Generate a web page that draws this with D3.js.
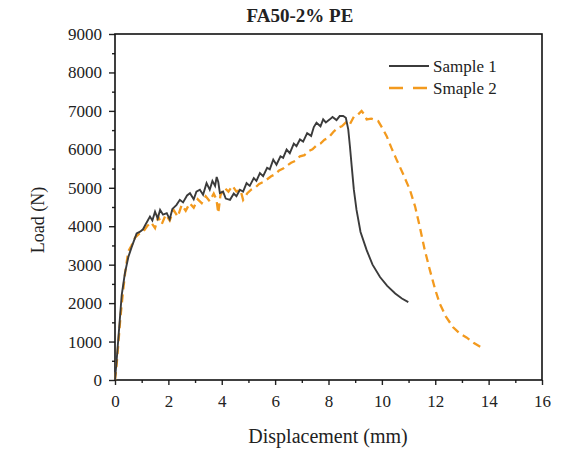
<!DOCTYPE html>
<html>
<head>
<meta charset="utf-8">
<script src="https://cdn.jsdelivr.net/npm/d3@7"></script>
<style>
  body { margin: 0; background: #fff; }
  text { font-family: "Liberation Serif", "DejaVu Serif", serif; fill: #222; }
</style>
</head>
<body>
<svg width="567" height="449"></svg>
<script>
// data (displacement mm, load N)
const sample1X = [0, 0.06, 0.15, 0.25, 0.37, 0.5, 0.62, 0.81, 0.94, 1.05, 1.15, 1.31, 1.4, 1.5, 1.6, 1.69, 1.8, 1.94, 2.05, 2.15, 2.3, 2.43, 2.55, 2.7, 2.81, 2.95, 3.05, 3.18, 3.3, 3.43, 3.55, 3.65, 3.75, 3.81, 3.87, 3.93, 4.05, 4.15, 4.31, 4.45, 4.55, 4.68, 4.8, 4.93, 5.05, 5.2, 5.3, 5.43, 5.55, 5.7, 5.8, 5.93, 6.05, 6.2, 6.3, 6.43, 6.55, 6.7, 6.8, 6.93, 7.05, 7.2, 7.35, 7.45, 7.55, 7.7, 7.8, 7.9, 8.05, 8.15, 8.3, 8.42, 8.55, 8.65, 8.74, 8.8, 8.87, 8.95, 9.05, 9.2, 9.43, 9.65, 9.93, 10.2, 10.5, 10.75, 10.99];
const sample1Y = [0, 500, 1300, 2200, 2775, 3200, 3450, 3814, 3857, 3920, 4050, 4250, 4150, 4380, 4200, 4424, 4300, 4340, 4180, 4450, 4550, 4686, 4620, 4800, 4860, 4700, 4900, 4948, 4820, 5120, 4950, 5180, 5050, 5280, 5150, 4860, 4900, 4720, 4686, 4850, 4780, 4948, 4900, 5120, 5050, 5250, 5180, 5380, 5300, 5520, 5480, 5733, 5600, 5820, 5780, 5995, 5900, 6150, 6080, 6256, 6200, 6420, 6350, 6580, 6693, 6600, 6780, 6700, 6780, 6840, 6760, 6866, 6866, 6820, 6518, 6100, 5558, 4950, 4424, 3850, 3377, 3000, 2678, 2450, 2250, 2120, 2024];

const sample2X = [0, 0.05, 0.12, 0.2, 0.3, 0.4, 0.5, 0.62, 0.75, 0.9, 1.05, 1.2, 1.35, 1.5, 1.62, 1.75, 1.9, 2.05, 2.2, 2.35, 2.5, 2.65, 2.8, 2.95, 3.1, 3.25, 3.4, 3.55, 3.7, 3.8, 3.87, 3.95, 4.1, 4.25, 4.4, 4.55, 4.7, 4.8, 4.95, 5.1, 5.25, 5.4, 5.55, 5.68, 5.85, 6.0, 6.15, 6.3, 6.45, 6.6, 6.75, 6.93, 7.1, 7.25, 7.4, 7.55, 7.7, 7.85, 8.0, 8.18, 8.35, 8.5, 8.65, 8.8, 8.95, 9.1, 9.24, 9.35, 9.43, 9.6, 9.86, 10.02, 10.18, 10.35, 10.55, 10.8, 11.05, 11.25, 11.42, 11.6, 11.8, 12.0, 12.17, 12.4, 12.67, 12.9, 13.17, 13.45, 13.73];
const sample2Y = [0, 300, 900, 1600, 2300, 2900, 3350, 3500, 3700, 3800, 3850, 4000, 4100, 3950, 4250, 4050, 4300, 4150, 4420, 4250, 4550, 4400, 4600, 4480, 4700, 4600, 4780, 4650, 4850, 4700, 4340, 4800, 5000, 4900, 5050, 4900, 4950, 4686, 4850, 4950, 5000, 5100, 5150, 5209, 5300, 5350, 5450, 5500, 5580, 5650, 5700, 5819, 5850, 5950, 6000, 6100, 6150, 6250, 6300, 6450, 6560, 6600, 6700, 6650, 6850, 6900, 6998, 6900, 6780, 6800, 6736, 6550, 6343, 6050, 5733, 5350, 4948, 4500, 3987, 3400, 2853, 2350, 1982, 1650, 1369, 1220, 1107, 960, 846];

const xTicks = [0, 2, 4, 6, 8, 10, 12, 14, 16];
const yTicks = [0, 1000, 2000, 3000, 4000, 5000, 6000, 7000, 8000, 9000];
const seriesNames = ['Sample 1', 'Smaple 2'];

const margin = { top: 34, right: 25, bottom: 69, left: 115 };
const width = 567;
const height = 449;
const innerWidth = width - margin.left - margin.right;
const innerHeight = height - margin.top - margin.bottom;

const svg = d3.select('svg');

const x = d3.scaleLinear().domain([0, 16]).range([0, innerWidth]);
const y = d3.scaleLinear().domain([0, 9000]).range([innerHeight, 0]);

const plot = svg.append('g')
  .attr('transform', `translate(${margin.left}, ${margin.top})`);

// minor ticks first, then the labelled ones
plot.append('g')
  .attr('transform', `translate(0, ${innerHeight})`)
  .call(d3.axisBottom(x).tickValues(d3.range(1, 16, 2)).tickSize(3).tickFormat(''))
  .call(g => g.select('.domain').remove())
  .call(g => g.selectAll('text').remove());
plot.append('g')
  .call(d3.axisLeft(y).tickValues(d3.range(500, 9000, 1000)).tickSize(3).tickFormat(''))
  .call(g => g.select('.domain').remove())
  .call(g => g.selectAll('text').remove());

const xAxis = plot.append('g')
  .attr('transform', `translate(0, ${innerHeight})`)
  .call(d3.axisBottom(x).tickValues(xTicks).tickFormat(d3.format('d')).tickSize(5).tickPadding(10).tickSizeOuter(0));
const yAxis = plot.append('g')
  .call(d3.axisLeft(y).tickValues(yTicks).tickFormat(d3.format('d')).tickSize(6).tickPadding(7).tickSizeOuter(0));

[xAxis, yAxis].forEach(g => {
  g.selectAll('text')
    .style('font-family', '"Liberation Serif", serif')
    .style('font-size', '17px')
    .attr('fill', '#333');
  g.select('.domain').remove();
});
plot.selectAll('.tick line').attr('stroke', '#222').attr('stroke-width', 1.4);

// frame
plot.append('rect')
  .attr('width', innerWidth)
  .attr('height', innerHeight)
  .attr('fill', 'none')
  .attr('stroke', '#111')
  .attr('stroke-width', 1.6);

const line = d3.line()
  .x(d => x(d[0]))
  .y(d => y(d[1]));

const s1 = sample1X.map((v, i) => [v, sample1Y[i]]);
const s2 = sample2X.map((v, i) => [v, sample2Y[i]]);

plot.append('path')
  .datum(s2)
  .attr('d', line)
  .attr('fill', 'none')
  .attr('stroke', '#f39a1e')
  .attr('stroke-width', 2.3)
  .attr('stroke-dasharray', '8,5');

plot.append('path')
  .datum(s1)
  .attr('d', line)
  .attr('fill', 'none')
  .attr('stroke', '#3b3b3b')
  .attr('stroke-width', 1.9);

// title and axis labels
svg.append('text')
  .attr('x', 300)
  .attr('y', 22)
  .attr('text-anchor', 'middle')
  .style('font-size', '19px')
  .style('font-weight', 'bold')
  .text('FA50-2% PE');

svg.append('text')
  .attr('x', 328)
  .attr('y', 443)
  .attr('text-anchor', 'middle')
  .style('font-size', '20px')
  .attr('fill', '#333')
  .text('Displacement (mm)');

svg.append('text')
  .attr('transform', `translate(44, 220) rotate(-90)`)
  .attr('text-anchor', 'middle')
  .style('font-size', '18px')
  .attr('fill', '#333')
  .text('Load (N)');

// legend
const legend = svg.append('g').attr('transform', 'translate(389, 66)');
const legendStyles = [
  { stroke: '#3b3b3b', dash: null, w: 1.9 },
  { stroke: '#f39a1e', dash: '14,10', w: 2.3 }
];
seriesNames.forEach((name, i) => {
  legend.append('line')
    .attr('x1', 0).attr('x2', 40)
    .attr('y1', i * 22).attr('y2', i * 22)
    .attr('stroke', legendStyles[i].stroke)
    .attr('stroke-width', legendStyles[i].w)
    .attr('stroke-dasharray', legendStyles[i].dash);
  legend.append('text')
    .attr('x', 44)
    .attr('y', i * 22 + 6)
    .style('font-size', '17px')
    .attr('fill', '#333')
    .text(name);
});
</script>
</body>
</html>
